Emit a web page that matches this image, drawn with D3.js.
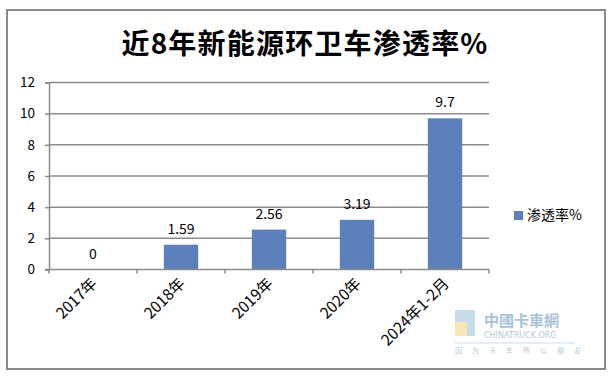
<!DOCTYPE html>
<html><head><meta charset="utf-8">
<script src="https://cdn.jsdelivr.net/npm/d3@7"></script>
<style>body{margin:0;background:#fff}svg{display:block}</style>
</head><body>
<svg id="c" width="610" height="378"></svg>
<script>
const title = "近8年新能源环卫车渗透率%";
const seriesName = "渗透率%";
const categories = ["2017年","2018年","2019年","2020年","2024年1-2月"];
const values = [0, 1.59, 2.56, 3.19, 9.7];
const yTicks = [0,2,4,6,8,10,12];

const svg = d3.select("#c");
const font = "'Noto Sans CJK SC','Noto Sans',sans-serif";
const pLeft = 49, pRight = 489, pTop = 82.5, pBottom = 269.5;

svg.append("rect").attr("x",7).attr("y",10).attr("width",598).attr("height",359)
  .attr("fill","#fff").attr("stroke","#8a8a8a").attr("stroke-width",2);

svg.append("text").attr("x",305).attr("y",54).attr("text-anchor","middle")
  .attr("font-family",font).attr("font-weight","bold").attr("font-size",28)
  .attr("letter-spacing",1.2).attr("fill","#000").text(title);

const x = d3.scaleBand().domain(categories).range([pLeft,pRight]).paddingInner(0.61).paddingOuter(0.305);
const y = d3.scaleLinear().domain([0,12]).range([pBottom,pTop]);

// gridlines
svg.append("g").selectAll("line").data(yTicks.filter(d=>d>0)).join("line")
  .attr("x1",pLeft).attr("x2",pRight).attr("y1",d=>y(d)).attr("y2",d=>y(d))
  .attr("stroke","#8c8c8c").attr("stroke-width",1.5);

// y axis
const ya = svg.append("g").attr("transform",`translate(${pLeft},0)`)
  .call(d3.axisLeft(y).tickValues(yTicks).tickSize(4).tickPadding(10));
ya.select(".domain").attr("stroke","#8c8c8c").attr("stroke-width",1.5);
ya.selectAll(".tick line").attr("stroke","#8c8c8c").attr("stroke-width",1.5);
ya.selectAll("text").attr("font-family",font).attr("font-size",13.5).attr("fill","#000");

// bars
svg.append("g").selectAll("rect").data(values).join("rect")
  .attr("x",(d,i)=>x(categories[i])).attr("width",x.bandwidth())
  .attr("y",d=>y(d)).attr("height",d=>y(0)-y(d)).attr("fill","#5B80BA");

// value labels
svg.append("g").selectAll("text").data(values).join("text")
  .attr("x",(d,i)=>x(categories[i])+x.bandwidth()/2).attr("y",d=>y(d)-11)
  .attr("text-anchor","middle").attr("font-family",font).attr("font-size",14)
  .attr("fill","#000").text(d=>String(d));

// x axis
const step = x.step();
const xa = svg.append("g").attr("transform",`translate(0,${pBottom})`);
xa.append("line").attr("x1",pLeft-4).attr("x2",pRight).attr("stroke","#8c8c8c").attr("stroke-width",1.5);
const bounds = d3.range(categories.length+1).map(i=>pLeft+i*step);
xa.selectAll("line.t").data(bounds).join("line").attr("class","t")
  .attr("x1",d=>d).attr("x2",d=>d).attr("y1",0).attr("y2",4)
  .attr("stroke","#8c8c8c").attr("stroke-width",1.5);
xa.selectAll("text").data(categories).join("text")
  .attr("transform",d=>`translate(${x(d)+x.bandwidth()/2+5},${15}) rotate(-45)`)
  .attr("text-anchor","end").attr("font-family",font).attr("font-size",15.5)
  .attr("fill","#000").text(d=>d);

// legend
svg.append("rect").attr("x",514).attr("y",211).attr("width",9).attr("height",9).attr("fill","#5B80BA");
svg.append("text").attr("x",527).attr("y",220).attr("font-family",font).attr("font-size",14)
  .attr("fill","#000").text(seriesName);

// watermark
const wm = svg.append("g").attr("opacity",0.55);
wm.append("rect").attr("x",455).attr("y",310).attr("width",20).attr("height",26).attr("fill","#9cc3dc");
wm.append("rect").attr("x",455).attr("y",322).attr("width",12).attr("height",14).attr("fill","#f2d77a");
wm.append("text").attr("x",484).attr("y",326).attr("font-family",font).attr("font-size",15)
  .attr("fill","#5f93b8").attr("font-weight","bold").text("中國卡車網");
wm.append("text").attr("x",484).attr("y",338).attr("font-family","'DejaVu Sans',sans-serif").attr("font-size",8)
  .attr("fill","#6f9fbe").text("CHINATRUCK.ORG");
wm.append("line").attr("x1",455).attr("x2",575).attr("y1",343).attr("y2",343).attr("stroke","#9cc3dc");
wm.append("text").attr("x",455).attr("y",353).attr("font-family",font).attr("font-size",7)
  .attr("fill","#6f9fbe").attr("letter-spacing",10).text("因为卡车所以朋友");
</script>
</body></html>
